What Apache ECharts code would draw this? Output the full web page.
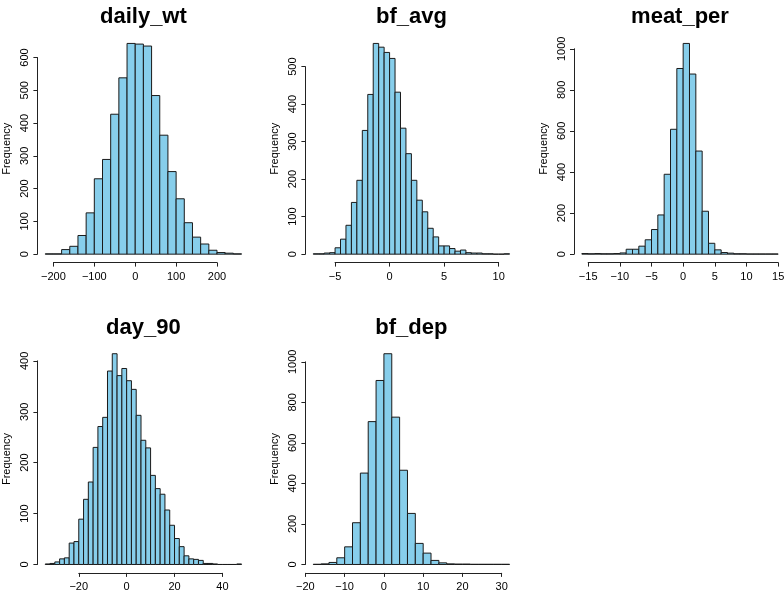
<!DOCTYPE html>
<html><head><meta charset="utf-8">
<script src="https://cdn.jsdelivr.net/npm/echarts@6/dist/echarts.min.js"></script>
<style>html,body{margin:0;padding:0;background:#fff}#c{width:784px;height:592px}</style>
</head><body><div id="c"></div>
<script>
// ---- data (histogram counts; bins defined by first break and bin width) ----
const dailyWtBreakStart = -220, dailyWtBinWidth = 20;
const dailyWtCounts = [1,1,14,24,57,126,230,289,427,538,643,641,635,484,363,252,169,96,52,31,12,5,3,1];
const dailyWtXTicks = [-200,-100,0,100,200];
const dailyWtYTicks = [0,100,200,300,400,500,600];

const bfAvgBreakStart = -7, bfAvgBinWidth = 0.5;
const bfAvgCounts = [1,1,3,4,17,40,77,138,197,330,426,562,552,538,522,432,336,268,197,144,113,69,46,22,22,15,8,11,4,3,3,1,1,0,0,1];
const bfAvgXTicks = [-5,0,5,10];
const bfAvgYTicks = [0,100,200,300,400,500];

const meatPerBreakStart = -16, meatPerBinWidth = 1;
const meatPerCounts = [3,2,3,2,2,3,6,24,24,39,70,120,191,389,608,904,1026,877,502,209,53,21,8,5,2,2,1,1,1,1,1];
const meatPerXTicks = [-15,-10,-5,0,5,10,15];
const meatPerYTicks = [0,200,400,600,800,1000];

const day90BreakStart = -34, day90BinWidth = 2;
const day90Counts = [1,2,5,11,13,42,45,89,128,162,230,271,289,380,414,371,385,361,344,293,244,229,175,149,138,107,77,51,35,17,11,10,8,2,2,1,0,0,0,0,1];
const day90XTicks = [-20,0,20,40];
const day90YTicks = [0,100,200,300,400];

const bfDepBreakStart = -18, bfDepBinWidth = 2;
const bfDepCounts = [1,3,10,33,87,206,451,705,908,1040,727,465,252,104,56,20,8,3,2,2,1,1,1,1,1];
const bfDepXTicks = [-20,-10,0,10,20,30];
const bfDepYTicks = [0,200,400,600,800,1000];

const titles = ['daily_wt','bf_avg','meat_per','day_90','bf_dep'];
const yLabel = 'Frequency';

// ---- layout ----
const panelLeft = [37.4, 305.4, 574.0];
const panelTop = [35.0, 345.3];
const W = 212, H = 227.6;
const FONT = '"Liberation Sans", Arial, Helvetica, sans-serif';
const BAR_FILL = '#87CEEB', BAR_STROKE = '#1a1a1a', AXIS_COLOR = '#222';

const panels = [
  {title:titles[0], start:dailyWtBreakStart, step:dailyWtBinWidth, counts:dailyWtCounts, xTicks:dailyWtXTicks, yTicks:dailyWtYTicks, col:0, row:0},
  {title:titles[1], start:bfAvgBreakStart, step:bfAvgBinWidth, counts:bfAvgCounts, xTicks:bfAvgXTicks, yTicks:bfAvgYTicks, col:1, row:0},
  {title:titles[2], start:meatPerBreakStart, step:meatPerBinWidth, counts:meatPerCounts, xTicks:meatPerXTicks, yTicks:meatPerYTicks, col:2, row:0},
  {title:titles[3], start:day90BreakStart, step:day90BinWidth, counts:day90Counts, xTicks:day90XTicks, yTicks:day90YTicks, col:0, row:1},
  {title:titles[4], start:bfDepBreakStart, step:bfDepBinWidth, counts:bfDepCounts, xTicks:bfDepXTicks, yTicks:bfDepYTicks, col:1, row:1}
];

const fmtX = v => String(v).replace('-', '\u2212');
const fmtY = v => String(v);
const grids = [], xAxes = [], yAxes = [], series = [], graphics = [];

function renderBar(params, api) {
  const x0 = api.value(0), x1 = api.value(1), c = api.value(2);
  const p0 = api.coord([x0, 0]);
  const p1 = api.coord([x1, c]);
  return {
    type: 'rect',
    shape: {x: p0[0], y: p1[1], width: p1[0] - p0[0], height: p0[1] - p1[1]},
    style: {fill: BAR_FILL, stroke: BAR_STROKE, lineWidth: 1}
  };
}

panels.forEach(p => {
  const left = panelLeft[p.col], top = panelTop[p.row];
  const n = p.counts.length;
  const xlo = p.start, xhi = p.start + p.step * n, xr = xhi - xlo;
  const xmin = xlo - 0.04 * xr, xmax = xhi + 0.04 * xr;
  const cmax = Math.max(...p.counts);
  const ymin = -0.04 * cmax, ymax = 1.04 * cmax;
  const px = v => left + (v - xmin) / (xmax - xmin) * W;
  const py = v => top + H - (v - ymin) / (ymax - ymin) * H;
  const xt0 = p.xTicks[0], xt1 = p.xTicks[p.xTicks.length - 1];
  const yt0 = p.yTicks[0], yt1 = p.yTicks[p.yTicks.length - 1];
  const g = grids.length;

  // data grid (full plot region, R-style 4% padding)
  grids.push({left: left, top: top, width: W, height: H, containLabel: false, outerBoundsMode: 'none'});
  // axis grid (spans only tick range, like R axes)
  grids.push({left: px(xt0), top: py(yt1), width: px(xt1) - px(xt0), height: py(yt0) - py(yt1), containLabel: false, outerBoundsMode: 'none'});

  xAxes.push({gridIndex: g, type: 'value', min: xmin, max: xmax, show: false});
  yAxes.push({
    gridIndex: g, type: 'value', min: ymin, max: ymax,
    name: yLabel, nameLocation: 'middle', nameGap: 25,
    nameTextStyle: {fontSize: 11, color: '#000', fontFamily: FONT},
    axisLine: {show: false}, axisTick: {show: false}, axisLabel: {show: false}, splitLine: {show: false}
  });
  xAxes.push({
    gridIndex: g + 1, type: 'value', min: xt0, max: xt1, interval: p.xTicks[1] - p.xTicks[0],
    position: 'bottom', offset: (top + H) - py(0),
    axisLine: {show: true, onZero: false, lineStyle: {color: AXIS_COLOR, width: 1}},
    axisTick: {show: true, length: 4, lineStyle: {color: AXIS_COLOR, width: 1}},
    axisLabel: {fontSize: 11, color: '#000', fontFamily: FONT, margin: 9, formatter: fmtX, showMinLabel: true, showMaxLabel: true},
    splitLine: {show: false}
  });
  yAxes.push({
    gridIndex: g + 1, type: 'value', min: yt0, max: yt1, interval: p.yTicks[1] - p.yTicks[0],
    position: 'left', offset: px(xt0) - left,
    axisLine: {show: true, onZero: false, lineStyle: {color: AXIS_COLOR, width: 1}},
    axisTick: {show: true, length: 4, lineStyle: {color: AXIS_COLOR, width: 1}},
    axisLabel: {fontSize: 11, color: '#000', fontFamily: FONT, margin: 7, rotate: 90, formatter: fmtY, showMinLabel: true, showMaxLabel: true},
    splitLine: {show: false}
  });

  series.push({
    type: 'custom', xAxisIndex: g, yAxisIndex: g, clip: false, silent: true,
    renderItem: renderBar,
    encode: {x: [0, 1], y: 2},
    data: p.counts.map((c, i) => [p.start + i * p.step, p.start + (i + 1) * p.step, c])
  });

  graphics.push({
    type: 'text', x: left + W / 2, y: top - 17.6, silent: true,
    style: {text: p.title, fill: '#000', font: 'bold 22px ' + FONT,
            align: 'center', verticalAlign: 'middle', textAlign: 'center', textVerticalAlign: 'middle'}
  });
});

const chart = echarts.init(document.getElementById('c'), null, {renderer: 'canvas'});
chart.setOption({
  animation: false,
  backgroundColor: '#fff',
  grid: grids, xAxis: xAxes, yAxis: yAxes, series: series,
  graphic: {elements: graphics}
});
</script></body></html>
